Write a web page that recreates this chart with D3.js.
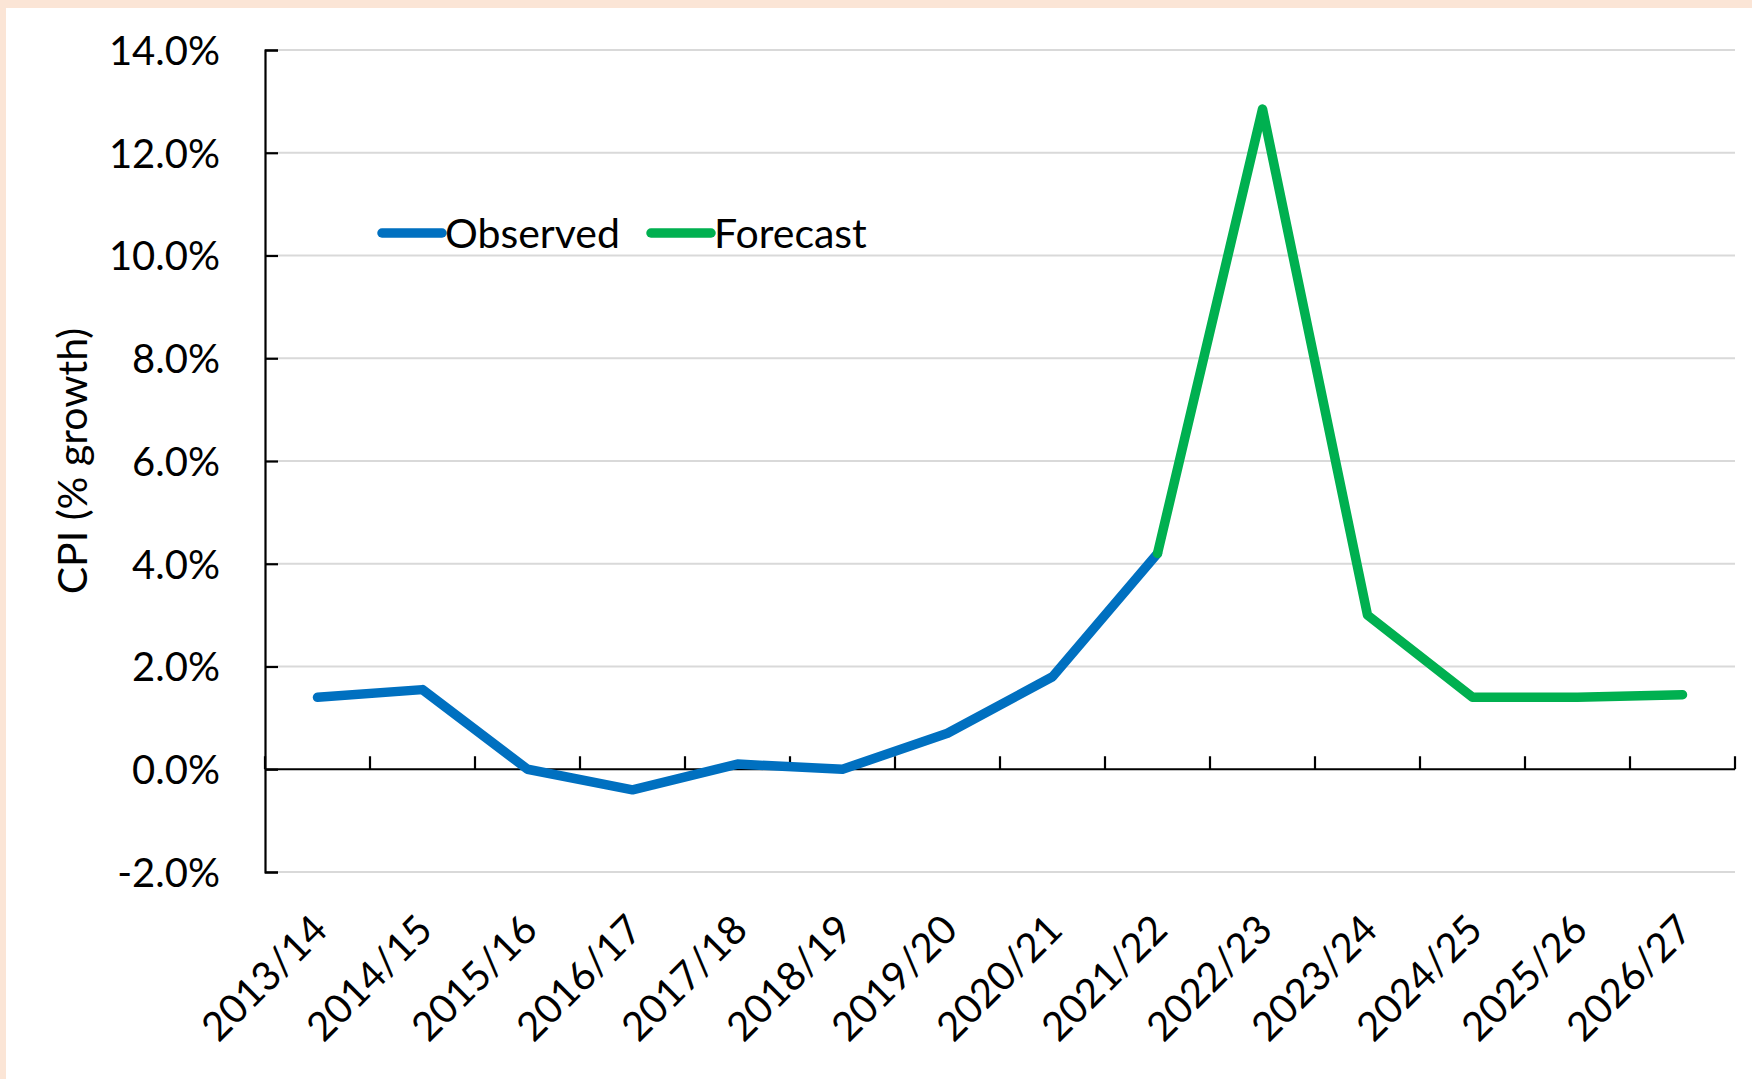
<!DOCTYPE html>
<html><head><meta charset="utf-8">
<script src="https://cdn.jsdelivr.net/npm/d3@7"></script>
<style>
html,body{margin:0;padding:0;background:#fff;}
svg{display:block;}
text{font-family:Lato,"Open Sans",sans-serif;fill:#000;}
</style></head>
<body>
<svg id="chart" width="1752" height="1079"></svg>
<script>
const categories = ["2013/14","2014/15","2015/16","2016/17","2017/18","2018/19","2019/20","2020/21","2021/22","2022/23","2023/24","2024/25","2025/26","2026/27"];
const observedCats = ["2013/14","2014/15","2015/16","2016/17","2017/18","2018/19","2019/20","2020/21","2021/22"];
const observedValues = [1.4, 1.55, 0.0, -0.4, 0.1, 0.0, 0.7, 1.8, 4.2];
const forecastCats = ["2021/22","2022/23","2023/24","2024/25","2025/26","2026/27"];
const forecastValues = [4.2, 12.85, 3.0, 1.4, 1.4, 1.45];
const yTicks = [-2, 0, 2, 4, 6, 8, 10, 12, 14];
const seriesNames = ["Observed", "Forecast"];
const seriesColors = ["#0070C0", "#00B050"];

const svg = d3.select("#chart");
svg.append("rect").attr("x",0).attr("y",0).attr("width",1752).attr("height",8).attr("fill","#FBE5D6");
svg.append("rect").attr("x",0).attr("y",0).attr("width",6).attr("height",1079).attr("fill","#FBE5D6");

const mLeft = 265, mRight = 1735, mTop = 50, mBottom = 872;
const x = d3.scaleBand().domain(categories).range([mLeft, mRight]).paddingInner(0).paddingOuter(0);
const y = d3.scaleLinear().domain([-2, 14]).range([mBottom, mTop]);
const cx = c => x(c) + x.bandwidth() / 2;

svg.append("g").selectAll("line").data(yTicks.filter(d => d !== 0)).join("line")
  .attr("x1", mLeft).attr("x2", mRight)
  .attr("y1", d => y(d)).attr("y2", d => y(d))
  .attr("stroke", "#D9D9D9").attr("stroke-width", 2);

const fmt = d => (d < 0 ? "-" : "") + Math.abs(d).toFixed(1) + "%";
const yAxis = d3.axisLeft(y).tickValues(yTicks).tickSize(-13).tickPadding(45).tickFormat(fmt);
const yg = svg.append("g").attr("transform", `translate(${mLeft},0)`).call(yAxis);
yg.select(".domain").attr("stroke", "#000").attr("stroke-width", 2.2);
yg.selectAll(".tick line").attr("stroke", "#000").attr("stroke-width", 2.2);
yg.selectAll(".tick text").attr("font-size", 40).attr("dy", "0.36em").attr("text-anchor","end")
  .attr("font-family","Lato").attr("fill","#000");

const xAxisG = svg.append("g").attr("transform", `translate(0,${y(0)})`);
xAxisG.append("line").attr("x1", mLeft).attr("x2", mRight).attr("y1", 0).attr("y2", 0)
  .attr("stroke", "#000").attr("stroke-width", 2.2);
const boundaries = categories.map(c => x(c) + x.bandwidth()).concat([x(categories[0])]);
xAxisG.selectAll("line.tk").data(boundaries).join("line").attr("class","tk")
  .attr("x1", d => d).attr("x2", d => d).attr("y1", 0).attr("y2", -13)
  .attr("stroke", "#000").attr("stroke-width", 2.2);

svg.append("g").selectAll("text").data(categories).join("text")
  .attr("transform", d => `translate(${cx(d) + 2},${mBottom + 50}) rotate(-45)`)
  .attr("text-anchor", "end").attr("dy", "0.36em")
  .attr("font-size", 40).text(d => d);

svg.append("text").attr("transform", `translate(72,461) rotate(-90)`)
  .attr("text-anchor","middle").attr("dy","0.36em").attr("font-size", 41)
  .text("CPI (% growth)");

const line = d3.line().x(d => cx(d[0])).y(d => y(d[1]));
svg.append("path").datum(observedCats.map((c,i)=>[c, observedValues[i]]))
  .attr("d", line).attr("fill","none").attr("stroke", seriesColors[0])
  .attr("stroke-width", 9.5).attr("stroke-linecap","round").attr("stroke-linejoin","round");
svg.append("path").datum(forecastCats.map((c,i)=>[c, forecastValues[i]]))
  .attr("d", line).attr("fill","none").attr("stroke", seriesColors[1])
  .attr("stroke-width", 9.5).attr("stroke-linecap","round").attr("stroke-linejoin","round");

const legY = 233;
const leg = [{x: 382, w: 60}, {x: 651, w: 60}];
seriesNames.forEach((n, i) => {
  svg.append("line").attr("x1", leg[i].x).attr("x2", leg[i].x + leg[i].w)
    .attr("y1", legY).attr("y2", legY).attr("stroke", seriesColors[i])
    .attr("stroke-width", 9.5).attr("stroke-linecap","round");
  svg.append("text").attr("x", leg[i].x + leg[i].w + 3).attr("y", legY).attr("dy","0.36em")
    .attr("font-size", 41).text(n);
});
</script>
</body></html>
